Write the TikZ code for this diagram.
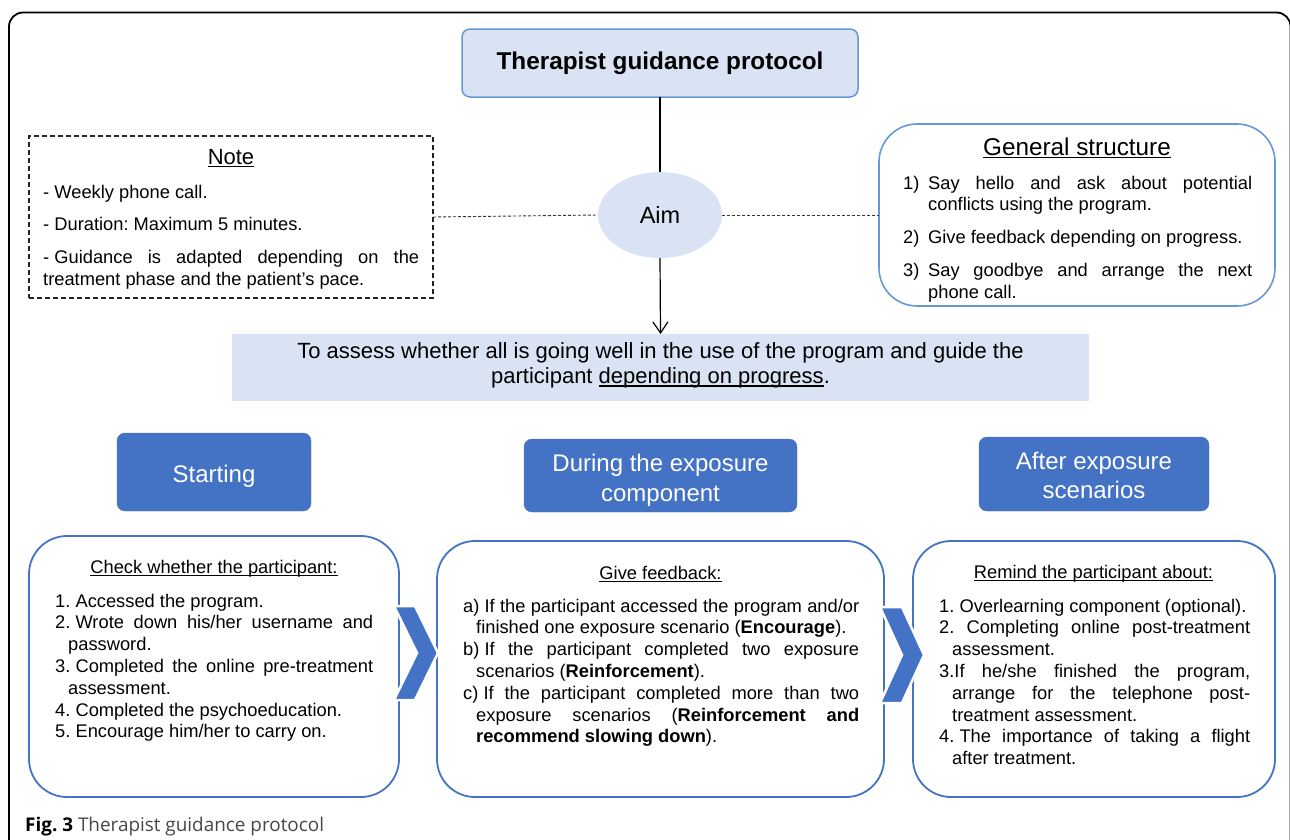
\documentclass[tikz,border=0pt]{standalone}
\usepackage{fontspec}
\setmainfont{Liberation Sans}
\newfontfamily\capfont{Open Sans}
\frenchspacing
\newsavebox{\ulbox}
\newcommand{\uln}[1]{\sbox\ulbox{#1}\rlap{\rule[-3pt]{\wd\ulbox}{1.3pt}}\usebox\ulbox}
\newcommand{\fs}{\hspace{0.278em}}
\usetikzlibrary{arrows.meta,shapes.geometric}
\definecolor{lightfill}{RGB}{218,227,243}
\definecolor{lightedge}{RGB}{100,152,214}
\definecolor{darkblue}{RGB}{68,114,196}
\newcommand{\hng}[1]{\hangindent=#1\hangafter=1\relax}
\tikzset{
  lightbox/.style={draw=lightedge, fill=lightfill, line width=1.5pt, rounded corners=8pt, inner sep=0pt, outer sep=0pt},
  hdr/.style={fill=darkblue, draw=darkblue, rounded corners=8pt, inner sep=0pt, outer sep=0pt},
  hdrtext/.style={text=white, font=\fontsize{24}{29}\selectfont, inner sep=0pt, anchor=base},
  listbox/.style={draw=darkblue, line width=1.8pt, rounded corners=38pt, inner sep=0pt, outer sep=0pt},
  genbox/.style={draw=lightedge, line width=1.6pt, rounded corners=38pt, inner sep=0pt, outer sep=0pt},
  notebox/.style={draw=black!85, line width=1.2pt, dash pattern=on 5pt off 3pt, inner sep=0pt, outer sep=0pt},
  body/.style={font=\fontsize{18.3}{21.8}\selectfont, align=justify, inner sep=0pt, anchor=north west},
  hd/.style={font=\fontsize{18.3}{21.8}\selectfont, inner sep=0pt, anchor=base},
  bighd/.style={font=\fontsize{23.5}{28}\selectfont, inner sep=0pt, anchor=base},
  conn/.style={draw=black, line width=1.2pt},
  dashline/.style={draw=black!80, line width=0.9pt, dash pattern=on 3pt off 2pt},
  chev/.style={fill=darkblue, draw=white, line width=2.5pt, line join=miter}
}
\begin{document}
\begin{tikzpicture}[x=1pt,y=-1pt]
\useasboundingbox (0,0) rectangle (1290,839);
\begin{scope}
\clip (0,0) rectangle (1290,839);
\draw[line width=1.8pt, rounded corners=14pt] (9,870) -- (9,12.5) -- (1290.5,12.5) -- (1290.5,870);
\end{scope}

% title and aim
\node[lightbox, minimum width=396pt, minimum height=68pt, font=\bfseries\fontsize{24.3}{29}\selectfont] (title) at (660,63) {Therapist guidance protocol};
\node[ellipse, fill=lightfill, minimum width=124pt, minimum height=86pt, inner sep=0pt, outer sep=0pt, font=\fontsize{23.5}{28}\selectfont] (aim) at (660,215) {Aim};

% note
\node[notebox, minimum width=404pt, minimum height=162pt] (note) at (231,217) {};
\node[bighd, font=\fontsize{22}{26}\selectfont] (notehd) at (231,164) {\uln{Note}};
\node[body, text width=376pt] (notelist) at (43,182.7) {\frenchspacing\setlength{\parskip}{11pt}\strut -\fs Weekly phone call.\par
-\fs Duration: Maximum 5 minutes.\par
-\fs Guidance is adapted depending on the\linebreak treatment phase and the patient’s pace.\par};

% general structure
\node[genbox, minimum width=396pt, minimum height=182pt] (gen) at (1077,215) {};
\node[bighd, font=\fontsize{24.3}{29}\selectfont] (genhd) at (1077,155) {\uln{General structure}};
\node[body, text width=349pt] (genlist) at (903,173.7) {\frenchspacing\setlength{\parskip}{11pt}\hng{25pt}\strut\makebox[25pt][l]{1)}Say hello and ask about potential\linebreak conflicts using the program.\par
\hng{25pt}\makebox[25pt][l]{2)}Give feedback depending on progress.\par
\hng{25pt}\makebox[25pt][l]{3)}Say goodbye and arrange the next\linebreak phone call.\par};

% aim statement
\node[fill=lightfill, minimum width=857pt, minimum height=67pt, inner sep=0pt, outer sep=0pt] (aimtext) at (660.5,367.5) {};
\node[inner sep=0pt, anchor=base, font=\fontsize{22}{26}\selectfont] (aimline1) at (660.5,358) {To assess whether all is going well in the use of the program and guide the};
\node[inner sep=0pt, anchor=base, font=\fontsize{22}{26}\selectfont] (aimline2) at (660.5,383.5) {participant \uln{depending on progress}.};

% connectors
\draw[conn] (title.south) -- (aim.north);
\draw[conn, -{Straight Barb[length=11pt,width=15pt,line width=1.2pt]}] (aim.south) -- (aimtext.north);
\draw[dashline] (note.east) -- (aim.west);
\draw[dashline] (aim.east) -- (gen.west);

% phase headers
\node[hdr, minimum width=194pt, minimum height=78pt] (start) at (214,472) {};
\node[hdrtext] (startt) at (214,482) {Starting};
\node[hdr, minimum width=273pt, minimum height=73pt] (during) at (660.5,475.5) {};
\node[hdrtext] (duringt1) at (660.5,471.5) {During the exposure};
\node[hdrtext] (duringt2) at (660.5,501) {component};
\node[hdr, minimum width=230pt, minimum height=74pt] (after) at (1094,474) {};
\node[hdrtext] (aftert1) at (1094,469.5) {After exposure};
\node[hdrtext] (aftert2) at (1094,498) {scenarios};

% bottom boxes
\node[listbox, minimum width=370pt, minimum height=261pt] (box1) at (214,666.5) {};
\node[listbox, minimum width=447pt, minimum height=256pt] (box2) at (660.5,669) {};
\node[listbox, minimum width=362pt, minimum height=256pt] (box3) at (1094,669) {};

\node[hd] (b1hd) at (214,573) {\uln{Check whether the participant:}};
\node[body, text width=318pt] (b1list) at (55,591.7) {\frenchspacing\exhyphenpenalty=10000\hyphenpenalty=10000
\hng{13pt}\strut 1.\fs Accessed the program.\par
\hng{13pt}2.\fs Wrote down his/her username and\linebreak password.\par
\hng{13pt}3.\fs Completed the online pre-treatment\linebreak assessment.\par
\hng{13pt}4.\fs Completed the psychoeducation.\par
\hng{13pt}5.\fs Encourage him/her to carry on.\par};

\node[hd] (b2hd) at (660.5,579) {\uln{Give feedback:}};
\node[body, text width=396pt] (b2list) at (463,596.7) {\frenchspacing\exhyphenpenalty=10000\hyphenpenalty=10000
\hng{13pt}\strut a)\fs If the participant accessed the program and/or\linebreak finished one exposure scenario (\textbf{Encourage}).\par
\hng{13pt}b)\fs If the participant completed two exposure\linebreak scenarios (\textbf{Reinforcement}).\par
\hng{13pt}c)\fs If the participant completed more than two\linebreak exposure scenarios (\textbf{Reinforcement and}\linebreak \textbf{recommend slowing down}).\par};

\node[hd] (b3hd) at (1093.5,578) {\uln{Remind the participant about:}};
\node[body, text width=311pt] (b3list) at (939,596.7) {\frenchspacing\exhyphenpenalty=10000\hyphenpenalty=10000
\hng{13pt}\strut 1.\fs Overlearning component (optional).\par
\hng{13pt}2. Completing online post-treatment\linebreak assessment.\par
\hng{13pt}3.If he/she finished the program,\linebreak arrange for the telephone post-\linebreak treatment assessment.\par
\hng{13pt}4.\fs The importance of taking a flight\linebreak after treatment.\par};

% chevrons
\filldraw[chev] (394,606) -- (415,606) -- (438,653) -- (415,700) -- (394,700) -- (417,653) -- cycle;
\filldraw[chev] (880,607) -- (902,607) -- (924,655) -- (902,703) -- (880,703) -- (902,655) -- cycle;

% caption
\node[anchor=base west, inner sep=0pt, font=\capfont\fontsize{18.9}{21}\selectfont] (cap) at (25,831) {\textbf{Fig. 3}\ \textcolor{black!72}{Therapist guidance protocol}};
\end{tikzpicture}
\end{document}
